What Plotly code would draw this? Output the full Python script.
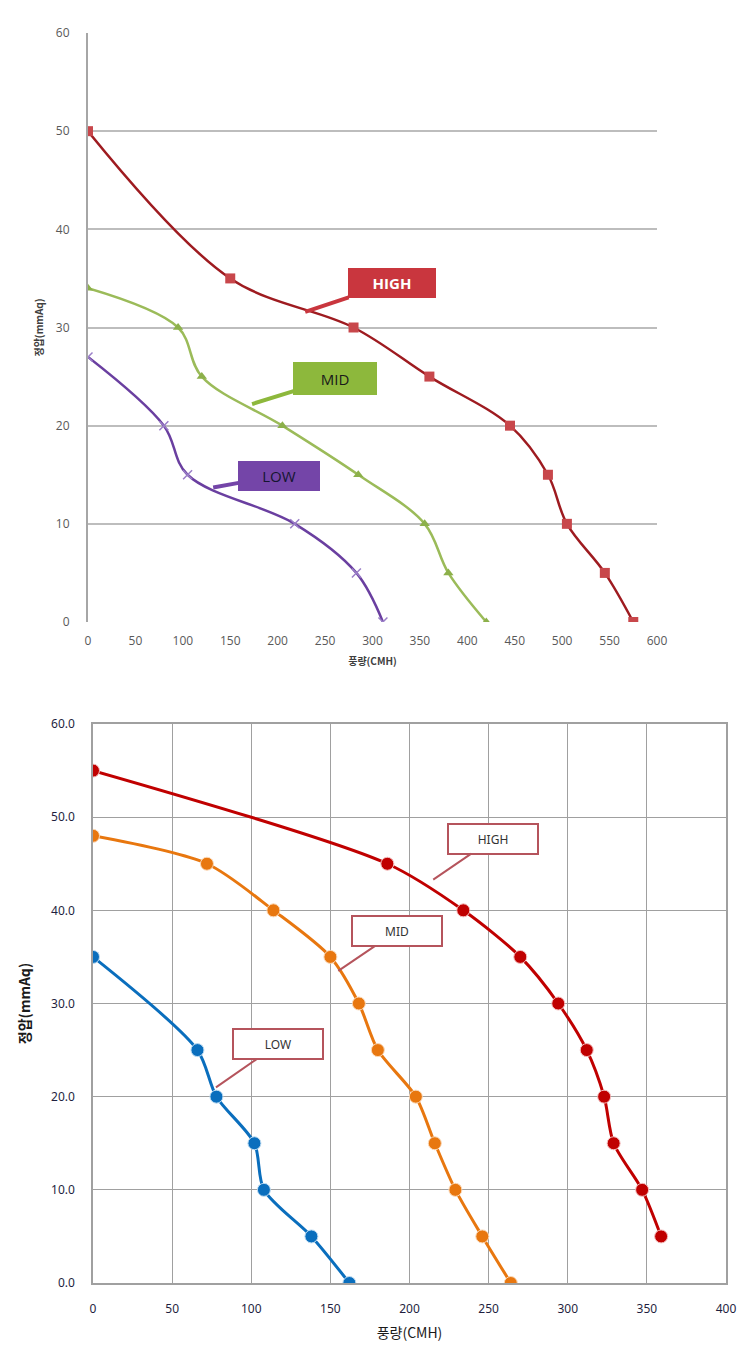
import plotly.graph_objects as go

# ---------------- Top chart data ----------------
top_high_x = [0, 150, 280, 360, 445, 485, 505, 545, 575]
top_high_y = [50, 35, 30, 25, 20, 15, 10, 5, 0]
top_mid_x = [0, 95, 120, 205, 285, 355, 380, 420]
top_mid_y = [34, 30, 25, 20, 15, 10, 5, 0]
top_low_x = [0, 80, 105, 218, 283, 311]
top_low_y = [27, 20, 15, 10, 5, 0]
top_x_ticks = [0, 50, 100, 150, 200, 250, 300, 350, 400, 450, 500, 550, 600]
top_y_ticks = [0, 10, 20, 30, 40, 50, 60]

# ---------------- Bottom chart data ----------------
bot_high_x = [0, 186, 234, 270, 294, 312, 323, 329, 347, 359]
bot_high_y = [55, 45, 40, 35, 30, 25, 20, 15, 10, 5]
bot_mid_x = [0, 72, 114, 150, 168, 180, 204, 216, 229, 246, 264]
bot_mid_y = [48, 45, 40, 35, 30, 25, 20, 15, 10, 5, 0]
bot_low_x = [0, 66, 78, 102, 108, 138, 162]
bot_low_y = [35, 25, 20, 15, 10, 5, 0]
bot_x_ticks = [0, 50, 100, 150, 200, 250, 300, 350, 400]
bot_y_ticks = [0, 10, 20, 30, 40, 50, 60]

W, H = 751, 1349

fig = go.Figure()

# top traces
fig.add_trace(go.Scatter(x=top_high_x, y=top_high_y, mode="lines+markers",
                         line=dict(color="#9E1B20", width=2.5, shape="spline", smoothing=1),
                         marker=dict(symbol="square", size=10, color="#C8474B"),
                         xaxis="x", yaxis="y", showlegend=False))
fig.add_trace(go.Scatter(x=top_mid_x, y=top_mid_y, mode="lines+markers",
                         line=dict(color="#9BBB59", width=2.5, shape="spline", smoothing=1),
                         marker=dict(symbol="triangle-up", size=9, color="#8CB04A"),
                         xaxis="x", yaxis="y", showlegend=False))
fig.add_trace(go.Scatter(x=top_low_x, y=top_low_y, mode="lines+markers",
                         line=dict(color="#6A3FA0", width=2.5, shape="spline", smoothing=1),
                         marker=dict(symbol="x-thin", size=9, color="#9B7FC8",
                                     line=dict(width=1.5, color="#9B7FC8")),
                         xaxis="x", yaxis="y", showlegend=False))

# bottom traces
fig.add_trace(go.Scatter(x=bot_high_x, y=bot_high_y, mode="lines+markers",
                         line=dict(color="#C00000", width=3, shape="spline", smoothing=0.8),
                         marker=dict(symbol="circle", size=13, color="#C00000",
                                     line=dict(width=1, color="#F4C0C0")),
                         xaxis="x2", yaxis="y2", showlegend=False))
fig.add_trace(go.Scatter(x=bot_mid_x, y=bot_mid_y, mode="lines+markers",
                         line=dict(color="#E8770F", width=3, shape="spline", smoothing=0.8),
                         marker=dict(symbol="circle", size=13, color="#E8770F",
                                     line=dict(width=1, color="#FBD9B8")),
                         xaxis="x2", yaxis="y2", showlegend=False))
fig.add_trace(go.Scatter(x=bot_low_x, y=bot_low_y, mode="lines+markers",
                         line=dict(color="#0A6EBD", width=3, shape="spline", smoothing=0.8),
                         marker=dict(symbol="circle", size=13, color="#0A6EBD",
                                     line=dict(width=1, color="#BFDDF3")),
                         xaxis="x2", yaxis="y2", showlegend=False))

top_font = dict(family="Open Sans, DejaVu Sans", size=12, color="#595959")
bot_font = dict(family="Noto Sans, DejaVu Sans", size=12, color="#1F1F3F")

fig.update_layout(
    width=W, height=H,
    margin=dict(l=0, r=0, t=0, b=0, autoexpand=False),
    paper_bgcolor="white", plot_bgcolor="white",
    xaxis=dict(domain=[88 / W, 657 / W], range=[0, 600], tickvals=top_x_ticks,
               showgrid=False, zeroline=False, showline=False, automargin=False,
               tickfont=top_font, ticks="", ticklabelstandoff=10,
               anchor="y",
               title=dict(text="<b>풍량(CMH)</b>", standoff=9,
                          font=dict(family="Noto Sans CJK KR", size=10, color="#404040"))),
    yaxis=dict(domain=[1 - 622 / H, 1 - 33 / H], range=[0, 60], tickvals=top_y_ticks,
               showgrid=True, gridcolor="#BDBDBD", gridwidth=1.5, automargin=False,
               zeroline=False, showline=True, linecolor="#A6A6A6", linewidth=2,
               tickfont=top_font, ticks="", ticklabelstandoff=14,
               anchor="x",
               title=dict(text="<b>정압(mmAq)</b>", standoff=10,
                          font=dict(family="Noto Sans CJK KR", size=10, color="#404040"))),
    xaxis2=dict(domain=[93 / W, 726 / W], range=[0, 400], tickvals=bot_x_ticks,
                showgrid=True, gridcolor="#A0A0A0", gridwidth=1, automargin=False,
                zeroline=False, showline=True, linecolor="#A0A0A0", linewidth=1.5, mirror=True,
                tickfont=bot_font, ticks="", ticklabelstandoff=14,
                anchor="y2",
                title=dict(text="풍량(CMH)", standoff=12,
                           font=dict(family="Noto Sans CJK KR", size=14, color="#1A1A1A"))),
    yaxis2=dict(domain=[1 - 1283 / H, 1 - 724 / H], range=[0, 60], tickvals=bot_y_ticks,
                tickformat=".1f", automargin=False,
                showgrid=True, gridcolor="#A0A0A0", gridwidth=1,
                zeroline=False, showline=True, linecolor="#A0A0A0", linewidth=1.5, mirror=True,
                tickfont=bot_font, ticks="", ticklabelstandoff=14,
                anchor="x2",
                title=dict(text="<b>정압(mmAq)</b>", standoff=17,
                           font=dict(family="Noto Sans CJK KR", size=14, color="#1A1A1A"))),
)

# ---- callouts, top chart ----
top_callouts = [
    dict(text="<b>HIGH</b>", x=229, y=31.6, ax=87, ay=-29, bg="#C9363E", fc="white", w=82, h=24),
    dict(text="MID", x=173, y=22.2, ax=83, ay=-26, bg="#8DB83C", fc="#1A1A1A", w=78, h=27),
    dict(text="LOW", x=132, y=13.7, ax=66, ay=-12, bg="#7445A8", fc="#151530", w=76, h=24),
]
for c in top_callouts:
    fig.add_annotation(text=c["text"], x=c["x"], y=c["y"], xref="x", yref="y",
                       ax=c["ax"], ay=c["ay"], showarrow=True, arrowhead=0,
                       arrowwidth=4, arrowcolor=c["bg"], standoff=0,
                       bgcolor=c["bg"], bordercolor=c["bg"], borderwidth=1, borderpad=2,
                       width=c["w"], height=c["h"],
                       font=dict(family="Open Sans, DejaVu Sans", size=15, color=c["fc"]))

# ---- callouts, bottom chart ----
bot_callouts = [
    dict(text="HIGH", x=215, y=43.3, ax=60, ay=-41),
    dict(text="MID", x=155, y=33.5, ax=59, ay=-40),
    dict(text="LOW", x=77.7, y=21.0, ax=62, ay=-43),
]
for c in bot_callouts:
    fig.add_annotation(text=c["text"], x=c["x"], y=c["y"], xref="x2", yref="y2",
                       ax=c["ax"], ay=c["ay"], showarrow=True, arrowhead=0,
                       arrowwidth=2, arrowcolor="#B5545C", standoff=0,
                       bgcolor="white", bordercolor="#B5545C", borderwidth=2, borderpad=2,
                       width=84, height=24,
                       font=dict(family="Noto Sans, DejaVu Sans", size=12, color="#333333"))

fig.write_html("out.html",
               config={"displayModeBar": False},
               post_script="document.body.style.margin='0';document.body.style.padding='0';")
